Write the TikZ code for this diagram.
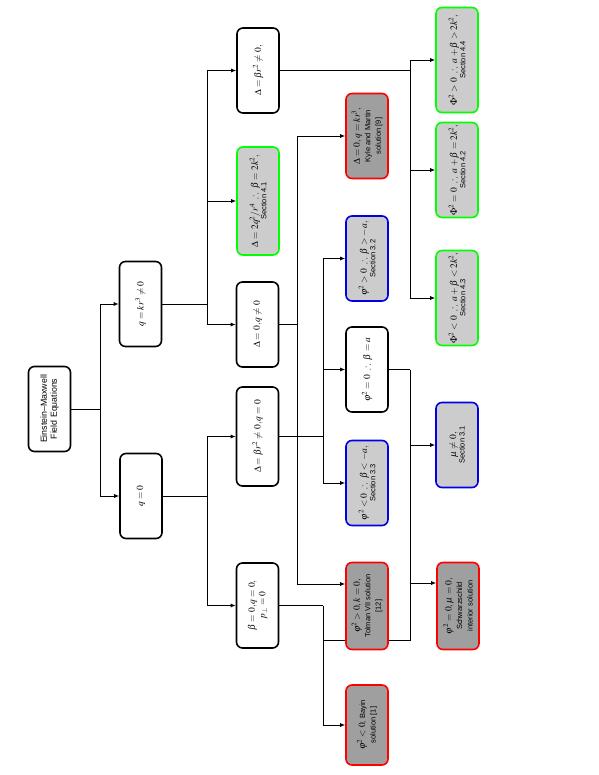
\documentclass[tikz,border=0pt]{standalone}
\usepackage{mathptmx}
\usepackage{amssymb}
\usepackage{fontspec}
\setsansfont{Liberation Sans}
\usetikzlibrary{arrows.meta}
\newcommand{\sectxt}{\sffamily\fontsize{7.5}{8}\selectfont}
\newcommand{\mathtxt}{\fontsize{9.5}{10.5}\selectfont}

\begin{document}
\begin{tikzpicture}[x=1pt,y=-1pt,
  box/.style={draw, rounded corners=6pt, rotate=90, line width=1.6pt, align=center,
    minimum width=85pt, minimum height=42pt, inner sep=2pt, fill=white,
    font=\mathtxt},
  result/.style={box, draw=red, fill=gray!75},
  newcase/.style={box, draw=green, fill=gray!40},
  known/.style={box, draw=blue!90!black, fill=gray!40},
  link/.style={line width=0.8pt},
  arr/.style={link, -{Latex[length=5pt,width=4pt]}}]
  \useasboundingbox (0,0) rectangle (598,775);

  % branch columns
  \coordinate (t0) at (100,0);
  \coordinate (t1) at (207,0);
  \coordinate (t2) at (297,0);
  \coordinate (t3) at (323,0);
  \coordinate (t4) at (410,0);
  \coordinate (tolin) at (297,584);
  \coordinate (schin) at (410,583);
  \coordinate (bot) at (323,640);

  % root and first level
  \node[box, font=\sffamily\fontsize{8.8}{10}\selectfont] (root) at (49.5,409) {Einstein--Maxwell\\Field Equations};
  \node[box] (qk) at (140.5,304) {$q = kr^3 \neq 0$};
  \node[box] (qz) at (141,496) {$q = 0$};

  % second level
  \node[box] (dbr) at (258,70.5) {$\Delta = \beta r^2 \neq 0,$};
  \node[newcase, minimum width=108pt] (s41) at (258,201) {$\Delta = 2q^2/r^4 \;\therefore\; \beta = 2k^2,$\\[-2pt]{\sectxt Section 4.1}};
  \node[box] (dzq) at (257.5,324.5) {$\Delta = 0, q \neq 0$};
  \node[box, minimum width=99pt] (dbq) at (257.5,436.5) {$\Delta = \beta r^2 \neq 0, q = 0$};
  \node[box] (bz) at (257.5,605.5) {$\beta = 0, q = 0,$\\$p_\perp = 0$};

  % third level
  \node[result] (km) at (367,136) {$\Delta = 0, q = kr^3,$\\{\sectxt Kyle and Martin}\\{\sectxt solution [9]}};
  \node[known] (s32) at (367,258.5) {$\varphi^2 > 0 \;\therefore\; \beta > -a,$\\[-2pt]{\sectxt Section 3.2}};
  \node[box] (pz) at (367,369.5) {$\varphi^2 = 0 \;\therefore\; \beta = a$};
  \node[known] (s33) at (367,483) {$\varphi^2 < 0 \;\therefore\; \beta < -a,$\\[-2pt]{\sectxt Section 3.3}};
  \node[result, minimum width=87pt] (tol) at (367,606) {$\varphi^2 > 0, k = 0,$\\{\sectxt Tolman VII solution}\\{\sectxt [12]}};
  \node[result, minimum width=80pt] (bay) at (367,725) {$\varphi^2 < 0${\sectxt, Bayin}\\{\sectxt solution [1]}};

  % fourth level
  \node[newcase, minimum width=105pt] (s44) at (457,60) {$\Phi^2 > 0 \;\therefore\; a + \beta > 2k^2,$\\[-2pt]{\sectxt Section 4.4}};
  \node[newcase, minimum width=90pt] (s42) at (457,170) {$\Phi^2 = 0 \;\therefore\; a + \beta = 2k^2,$\\[-2pt]{\sectxt Section 4.2}};
  \node[newcase] (s43) at (457,298) {$\Phi^2 < 0 \;\therefore\; a + \beta < 2k^2,$\\[-2pt]{\sectxt Section 4.3}};
  \node[known] (s31) at (457,445) {$\mu \neq 0,$\\[-2pt]{\sectxt Section 3.1}};
  \node[result, minimum width=87pt] (sch) at (458,606) {$\varphi^2 = 0, \mu = 0,$\\{\sectxt Schwarzschild}\\{\sectxt interior solution}};

  % connectors
  \draw[link] (root.south) -- (root.south -| t0);
  \draw[link] (t0 |- qk) -- (t0 |- qz);
  \draw[arr] (t0 |- qk) -- (qk.north);
  \draw[arr] (t0 |- qz) -- (qz.north);

  \draw[link] (qk.south) -- (qk.south -| t1);
  \draw[link] (t1 |- dbr) -- (t1 |- dzq);
  \foreach \n in {dbr,s41,dzq}
    \draw[arr] (t1 |- \n) -- (\n.north);
  \draw[link] (qz.south) -- (qz.south -| t1);
  \draw[link] (t1 |- dbq) -- (t1 |- bz);
  \foreach \n in {dbq,bz}
    \draw[arr] (t1 |- \n) -- (\n.north);

  \draw[link] (dzq.south) -- (dzq.south -| t2);
  \draw[link] (t2 |- km) -- (tolin);
  \draw[arr] (t2 |- km) -- (km.north);
  \draw[arr] (tolin) -- (tolin -| tol.north);

  \draw[link] (dbq.south) -- (dbq.south -| t3);
  \draw[link] (t3 |- s32) -- (t3 |- s33);
  \foreach \n in {s32,pz,s33}
    \draw[arr] (t3 |- \n) -- (\n.north);

  \draw[link] (bz.south) -- (bz.south -| t3);
  \draw[link] (bz.south -| t3) -- (t3 |- bay);
  \draw[arr] (t3 |- bay) -- (bay.north);
  \draw[link] (bot) -- (tol.north |- bot);
  \draw[link] (tol.south |- bot) -- (bot -| t4) -- (schin);

  \draw[link] (dbr.south) -- (dbr.south -| t4);
  \draw[link] (t4 |- s44) -- (t4 |- s43);
  \foreach \n in {s44,s42,s43}
    \draw[arr] (t4 |- \n) -- (\n.north);

  \draw[link] (pz.south) -- (pz.south -| t4);
  \draw[link] (pz.south -| t4) -- (schin);
  \draw[arr] (t4 |- s31) -- (s31.north);
  \draw[arr] (schin) -- (schin -| sch.north);
\end{tikzpicture}
\end{document}
